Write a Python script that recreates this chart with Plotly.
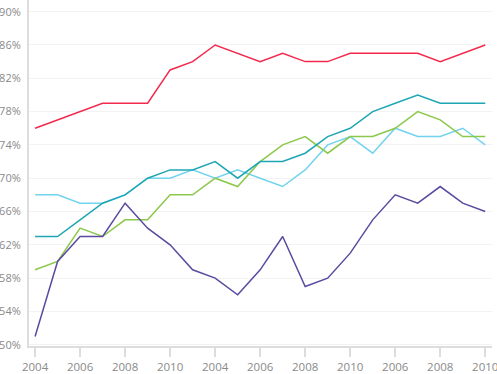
import plotly.graph_objects as go

x_idx = list(range(21))
tick_pos = [0, 2, 4, 6, 8, 10, 12, 14, 16, 18, 20]
tick_labels = ["2004", "2006", "2008", "2010", "2004", "2006", "2008", "2010", "2006", "2008", "2010"]

red = [76, 77, 78, 79, 79, 79, 83, 84, 86, 85, 84, 85, 84, 84, 85, 85, 85, 85, 84, 85, 86]
teal = [63, 63, 65, 67, 68, 70, 71, 71, 72, 70, 72, 72, 73, 75, 76, 78, 79, 80, 79, 79, 79]
sky = [68, 68, 67, 67, 68, 70, 70, 71, 70, 71, 70, 69, 71, 74, 75, 73, 76, 75, 75, 76, 74]
green = [59, 60, 64, 63, 65, 65, 68, 68, 70, 69, 72, 74, 75, 73, 75, 75, 76, 78, 77, 75, 75]
purple = [51, 60, 63, 63, 67, 64, 62, 59, 58, 56, 59, 63, 57, 58, 61, 65, 68, 67, 69, 67, 66]

series = [
    (sky, "#72d3ee"),
    (green, "#8cc84b"),
    (teal, "#1fa6b4"),
    (purple, "#5b4aa0"),
    (red, "#f2294d"),
]

fig = go.Figure()
for vals, col in series:
    fig.add_trace(go.Scatter(x=x_idx, y=vals, mode="lines",
                             line=dict(color=col, width=1.5), showlegend=False))

fig.update_layout(
    width=497, height=374,
    margin=dict(l=29, r=5, t=0, b=28, autoexpand=False),
    plot_bgcolor="white", paper_bgcolor="white",
    font=dict(family="Open Sans, sans-serif", color="#8a8a8a"),
    xaxis=dict(
        range=[-0.27, 20.3], automargin=False,
        tickmode="array", tickvals=tick_pos, ticktext=tick_labels,
        ticklabeloverflow="allow",
        showgrid=False, zeroline=False,
        showline=True, linecolor="#dddddd", linewidth=2,
        ticks="outside", ticklen=9, tickcolor="#dddddd", tickwidth=1.5,
        tickfont=dict(size=11.5, color="#8a8a8a"),
    ),
    yaxis=dict(
        range=[49.85, 91.4], automargin=False,
        tickmode="array",
        tickvals=[50, 54, 58, 62, 66, 70, 74, 78, 82, 86, 90],
        ticktext=["50%", "54%", "58%", "62%", "66%", "70%", "74%", "78%", "82%", "86%", "90%"],
        ticklabeloverflow="allow",
        showgrid=True, gridcolor="#f3f3f3", gridwidth=1,
        zeroline=False,
        showline=True, linecolor="#dddddd", linewidth=2,
        ticks="", ticklabelstandoff=4, tickfont=dict(size=11, color="#8a8a8a"),
    ),
)

fig.write_html("out.html", config={"displayModeBar": False},
               post_script="document.body.style.margin='0';document.body.style.padding='0';")
